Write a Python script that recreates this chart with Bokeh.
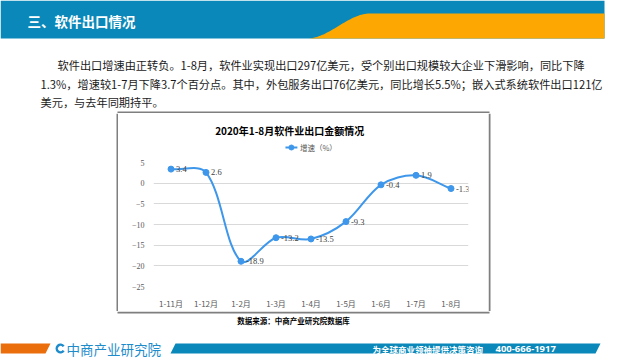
import numpy as np
from bokeh.plotting import figure
from bokeh.models import Range1d, FactorRange, FixedTicker
from bokeh.layouts import column, row
from bokeh.core.properties import value
from bokeh.embed import file_html
from bokeh.resources import INLINE

# ---------------- data ----------------
months = ["1-11月", "1-12月", "1-2月", "1-3月", "1-4月", "1-5月", "1-6月", "1-7月", "1-8月"]
growth = [3.4, 2.6, -18.9, -13.2, -13.5, -9.3, -0.4, 1.9, -1.3]
growth_labels = ["3.4", "2.6", "-18.9", "-13.2", "-13.5", "-9.3", "-0.4", "1.9", "-1.3"]
y_ticks = [5, 0, -5, -10, -15, -20, -25]

header_title = "三、软件出口情况"
para_lines = [
    "软件出口增速由正转负。1-8月，软件业实现出口297亿美元，受个别出口规模较大企业下滑影响，同比下降",
    "1.3%，增速较1-7月下降3.7个百分点。其中，外包服务出口76亿美元，同比增长5.5%；嵌入式系统软件出口121亿",
    "美元，与去年同期持平。",
]
chart_title = "2020年1-8月软件业出口金额情况"
legend_label = "增速（%）"
source_note = "数据来源：中商产业研究院数据库"
brand = "中商产业研究院"
slogan = "为全球商业领袖提供决策咨询"
phone = "400-666-1917"

BLUE = "#0a88b9"
ORANGE = "#fca702"
LINE = "#3e97ea"
CJK = value("Noto Sans CJK SC")


def page_fig(x0, x1, y0, y1):
    f = figure(width=x1 - x0, height=y1 - y0, x_range=Range1d(x0, x1),
               y_range=Range1d(y1, y0), output_backend="svg", toolbar_location=None,
               min_border=0, x_axis_location=None, y_axis_location=None)
    f.grid.visible = False
    f.outline_line_color = None
    f.background_fill_color = "white"
    f.border_fill_color = "white"
    return f


# ---------------- top: header + paragraph ----------------
top = page_fig(0, 620, 0, 113)
top.quad(left=[0], right=[604], top=[0], bottom=[38], fill_color=BLUE, line_color=None)
t = np.linspace(0, 1, 40)
s = t * t * (3 - 2 * t)
ox = list(307 + 62 * t) + [604, 604]
oy = list(38 - 25 * s) + [13, 38]
top.patch(ox, oy, fill_color=ORANGE, line_color=None)
top.text(x=[27], y=[20], text=[header_title], text_font=CJK, text_font_size="13.5px",
         text_font_style="bold", text_color="white", text_baseline="middle")
top.text(x=[57, 40, 40], y=[64, 83, 101], text=para_lines, text_font=CJK,
         text_font_size="11.2px", text_color="#1a1a1a", text_baseline="middle")
top.line([117, 489], [112, 112], line_color="#7f7f7f", line_width=2)

# ---------------- chart header (title + legend) ----------------
chead = page_fig(118, 488, 113, 153)
chead.text(x=[278], y=[130], text=[chart_title], text_font=CJK, text_font_size="10px",
           text_font_style="bold", text_color="#000000", text_align="center",
           text_baseline="middle")
chead.line([273, 287], [147, 147], line_color=LINE, line_width=2)
chead.scatter([280], [147], size=5, fill_color=LINE, line_color=LINE)
chead.text(x=[290], y=[147], text=[legend_label], text_font=CJK, text_font_size="7.5px",
           text_color="#595959", text_baseline="middle")

# ---------------- chart ----------------
p = figure(width=370, height=158, x_range=FactorRange(*months), y_range=Range1d(-25, 5),
           output_backend="svg", toolbar_location=None,
           min_border_left=35, min_border_right=20, min_border_top=9, min_border_bottom=23)
p.outline_line_color = None
p.background_fill_color = "white"
p.border_fill_color = "white"
p.xgrid.grid_line_color = None
p.ygrid.grid_line_color = "#d9d9d9"
p.ygrid.grid_line_width = 1
p.yaxis.ticker = FixedTicker(ticks=y_ticks)
for ax in (p.xaxis[0], p.yaxis[0]):
    ax.axis_line_color = None
    ax.major_tick_line_color = None
    ax.minor_tick_line_color = None
    ax.major_label_text_color = "#595959"
    ax.major_label_text_font_size = "8px"
p.yaxis.major_label_text_font = "Liberation Serif"
p.yaxis.major_label_standoff = 3
p.xaxis.major_label_text_font = "Noto Sans CJK SC"
p.xaxis.major_label_standoff = 5

# smooth line (Excel-like bezier smoothing, computed in pixel space)
n = len(growth)
xc = np.arange(n) + 0.5
P = np.column_stack([xc * 35.0, np.array(growth) * 4.2])
c_before = np.zeros_like(P)
c_after = np.zeros_like(P)
for i in range(n):
    prev = P[i - 1] if i > 0 else P[i]
    nxt = P[i + 1] if i < n - 1 else P[i]
    d = nxt - prev
    l1 = np.hypot(*(P[i] - prev))
    l2 = np.hypot(*(nxt - P[i]))
    tot = l1 + l2
    c_before[i] = P[i] - d * (l1 / tot) / 3
    c_after[i] = P[i] + d * (l2 / tot) / 3
p.bezier(x0=P[:-1, 0] / 35, y0=P[:-1, 1] / 4.2, x1=P[1:, 0] / 35, y1=P[1:, 1] / 4.2,
         cx0=c_after[:-1, 0] / 35, cy0=c_after[:-1, 1] / 4.2,
         cx1=c_before[1:, 0] / 35, cy1=c_before[1:, 1] / 4.2,
         line_color=LINE, line_width=2)
p.scatter(x=months, y=growth, size=6, fill_color=LINE, line_color=LINE)
p.text(x=months, y=growth, text=growth_labels, x_offset=5, text_font=value("Liberation Serif"),
       text_font_size="8.5px", text_color="#404040", text_baseline="middle")

left = page_fig(0, 118, 113, 311)
left.line([117, 117], [113, 311], line_color="#7f7f7f", line_width=2)
right = page_fig(488, 620, 113, 311)
right.line([489, 489], [113, 311], line_color="#7f7f7f", line_width=2)

# ---------------- bottom: source + footer ----------------
bottom = page_fig(0, 620, 311, 360)
bottom.line([117, 489], [312, 312], line_color="#7f7f7f", line_width=2)
bottom.text(x=[293], y=[320], text=[source_note], text_font=CJK, text_font_size="7.5px",
            text_font_style="bold", text_color="#000000", text_align="center",
            text_baseline="middle")
bottom.patch([0, 50, 45, 0], [343, 343, 353, 353], fill_color="#ea6f0c", line_color=None)
bottom.patch([175, 600, 595, 170], [343, 343, 353, 353], fill_color=BLUE, line_color=None)
bottom.annular_wedge(x=[60], y=[348], inner_radius=2.5, outer_radius=5, start_angle=0.6,
                     end_angle=5.7, fill_color="#1e8ccb", line_color=None)
bottom.text(x=[66], y=[348], text=[brand], text_font=CJK, text_font_size="13.5px",
            text_color="#1e8ccb", text_baseline="middle")
bottom.text(x=[372], y=[348], text=[slogan], text_font=CJK, text_font_size="8.5px",
            text_font_style="bold", text_color="white", text_baseline="middle")
bottom.text(x=[495], y=[348], text=[phone], text_font=value("Noto Sans"), text_font_size="9.5px",
            text_font_style="bold", text_color="white", text_baseline="middle")

root = column(top, row(left, column(chead, p), right), bottom)

open("out.html", "w").write(file_html(root, INLINE))
